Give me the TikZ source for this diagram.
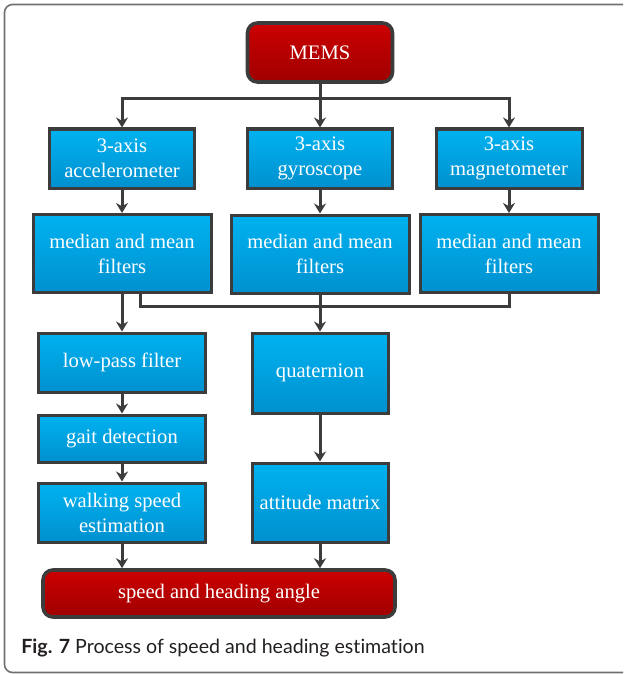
\documentclass[tikz,border=0pt]{standalone}
\usepackage{fontspec}
\setmainfont{Liberation Serif}
\newfontfamily\capfont[Ligatures=NoCommon]{Lato}
\usetikzlibrary{arrows.meta,shadows}

\definecolor{cajaarriba}{HTML}{00B2F0}
\definecolor{cajaabajo}{HTML}{0090CF}
\definecolor{rojoarriba}{HTML}{CC0000}
\definecolor{rojoabajo}{HTML}{A00000}
\definecolor{borde}{HTML}{3C3C3C}
\definecolor{marco}{HTML}{707070}
\definecolor{texto}{HTML}{231F20}

\tikzset{
    caja/.style={draw=borde, line width=1.5pt, top color=cajaarriba, bottom color=cajaabajo,
        text=white, align=center, inner sep=2pt,
        font=\rmfamily\fontsize{10.3}{12.5}\selectfont,
        drop shadow={opacity=0.2, shadow xshift=0.8pt, shadow yshift=-0.8pt}},
    cajaroja/.style={caja, line width=1.8pt, rounded corners=5pt,
        top color=rojoarriba, bottom color=rojoabajo},
    flecha/.style={draw=borde, line width=1.5pt, -{Stealth[length=5pt,width=6pt]}},
    linea/.style={draw=borde, line width=1.5pt},
}

\begin{document}
\begin{tikzpicture}[x=0.5pt, y=-0.5pt]
    \useasboundingbox (0,0) rectangle (623,674);

    % Marco de la figura
    \begin{scope}
        \clip (0,0) rectangle (623,674);
        \draw[marco, line width=0.8pt, rounded corners=4pt] (4.5,4.5) rectangle (660,672.5);
    \end{scope}

    % Entrada y sensores
    \node[cajaroja, minimum width=72.5pt, minimum height=29.5pt] (mems) at (320,52.5) {MEMS};
    \node[caja, minimum width=72.5pt, minimum height=29.5pt] (acel) at (122,158.5) {3-axis\\accelerometer};
    \node[caja, minimum width=72.5pt, minimum height=29.5pt] (giro) at (320,158.5) {3-axis\\gyroscope};
    \node[caja, minimum width=73pt, minimum height=29.5pt] (magn) at (509,158.5) {3-axis\\magnetometer};

    % Filtros
    \node[caja, minimum width=89pt, minimum height=39pt] (filtA) at (122,253.5) {median and mean\\filters};
    \node[caja, minimum width=89pt, minimum height=39pt] (filtG) at (320,254) {median and mean\\filters};
    \node[caja, minimum width=89pt, minimum height=39pt] (filtM) at (509,253.5) {median and mean\\filters};

    % Rama de la velocidad
    \node[caja, minimum width=83.5pt, minimum height=29.5pt] (pasobajo) at (122,362.5) {low-pass filter};
    \node[caja, minimum width=83.5pt, minimum height=23.5pt] (marcha) at (122,438.5) {gait detection};
    \node[caja, minimum width=83.5pt, minimum height=29.5pt] (veloc) at (122,512.5) {walking speed\\estimation};

    % Rama del rumbo
    \node[caja, minimum width=68pt, minimum height=40pt] (cuat) at (320,373) {quaternion};
    \node[caja, minimum width=68pt, minimum height=39.5pt] (actitud) at (320,502.5) {attitude matrix};

    % Salida
    \node[cajaroja, minimum width=176pt, minimum height=23.5pt] (salida) at (219,593.5) {speed and heading angle};

    % Conexiones
    \draw[flecha] (mems.south) -- ++(0,15) -| (acel.north);
    \draw[flecha] (mems.south) -- ++(0,15) -| (magn.north);
    \draw[flecha] (mems) -- (giro);
    \draw[flecha] (acel) -- (filtA);
    \draw[flecha] (giro) -- (filtG);
    \draw[flecha] (magn) -- (filtM);
    \draw[flecha] (filtA) -- (pasobajo);
    \draw[linea] ([xshift=9pt]filtA.south) -- ++(0,12.5) -| (filtM.south);
    \draw[flecha] (filtG) -- (cuat);
    \draw[flecha] (pasobajo) -- (marcha);
    \draw[flecha] (marcha) -- (veloc);
    \draw[flecha] (cuat) -- (actitud);
    \draw[flecha] (veloc) -- (veloc |- salida.north);
    \draw[flecha] (actitud) -- (actitud |- salida.north);

    % Pie de figura
    \node[anchor=base west, inner sep=0pt, text=texto, font=\capfont\fontsize{9.8}{12}\selectfont] (pie) at (21,653)
        {\textbf{Fig. 7} Process of speed and heading estimation};
\end{tikzpicture}
\end{document}
